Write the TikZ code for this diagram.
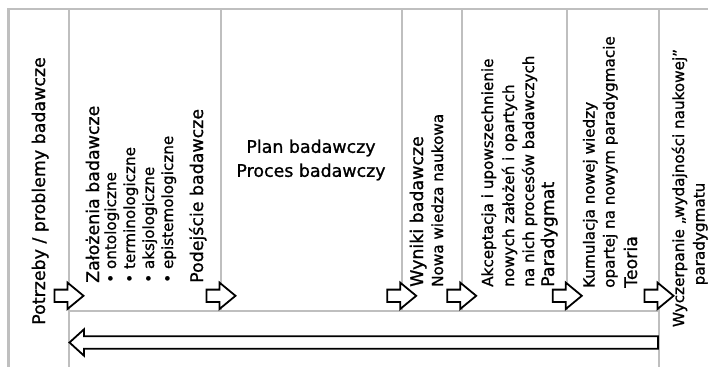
\documentclass[tikz,border=0pt]{standalone}
\usepackage{fontspec}
\setmainfont{DejaVu Sans}[FakeBold=1.0]
\definecolor{lgray}{RGB}{191,191,191}
\begin{document}
\begin{tikzpicture}[x=1bp,y=-1bp,
  grid/.style={draw=lgray, line width=2.2bp},
  blk/.style={draw=black, line width=1.8bp, fill=white, line join=miter},
  mtxt/.style={font=\fontsize{17.4bp}{21bp}\selectfont, inner sep=0pt},
  stxt/.style={font=\fontsize{15.2bp}{19bp}\selectfont, inner sep=0pt},
  vl/.style={rotate=90, anchor=base west},
  pics/rarrow/.style={code={
    \draw[blk] (-14.5,-6.2) -- (-1.5,-6.2) -- (-1.5,-13.2) -- (14.5,0) -- (-1.5,13.2) -- (-1.5,6.2) -- (-14.5,6.2) -- cycle;
  }}
]
\useasboundingbox (0,0) rectangle (708,367);
\fill[white] (0,0) rectangle (708,367);
% grid lines
\draw[grid] (708,9) -- (8.5,9) -- (8.5,367);
\draw[grid] (69,9) -- (69,367);
\draw[grid] (659,9) -- (659,367);
\draw[grid] (221,9) -- (221,311);
\draw[grid] (401.7,9) -- (401.7,311);
\draw[grid] (461.7,9) -- (461.7,311);
\draw[grid] (567.3,9) -- (567.3,311);
\draw[grid] (69,311) -- (659,311);
% small block arrows
\pic at (69,295.8) {rarrow};
\pic at (221,295.8) {rarrow};
\pic at (401.7,295.8) {rarrow};
\pic at (461.7,295.8) {rarrow};
\pic at (567.3,295.8) {rarrow};
\pic at (659,295.8) {rarrow};
% big return arrow
\draw[blk] (658,336.2) -- (84,336.2) -- (84,329.3) -- (69.5,342.5) -- (84,355.7) -- (84,348.8) -- (658,348.8) -- cycle;
% column 1
\node[mtxt, rotate=90, anchor=base] (potrzeby) at (45,191) {Potrzeby / problemy badawcze};
% column 2
\node[mtxt, vl] (zal) at (99,283) {Założenia badawcze};
\node[stxt, vl] (ont) at (116,283) {• ontologiczne};
\node[stxt, vl] (ter) at (135,283) {• terminologiczne};
\node[stxt, vl] (aks) at (154,283) {• aksjologiczne};
\node[stxt, vl] (epi) at (173,283) {• epistemologiczne};
\node[mtxt, vl] (pod) at (203,283) {Podejście badawcze};
% column 3
\node[mtxt, align=center, font=\fontsize{17.4bp}{24bp}\selectfont] (plan) at (311,160) {Plan badawczy\\Proces badawczy};
% column 4
\node[mtxt, vl] (wyn) at (423,287) {Wyniki badawcze};
\node[stxt, vl] (nowa) at (443,287) {Nowa wiedza naukowa};
% column 5
\node[stxt, vl] (akc) at (493,287) {Akceptacja i upowszechnienie};
\node[stxt, vl] (now) at (514,287) {nowych założeń i opartych};
\node[stxt, vl] (nan) at (534,287) {na nich procesów badawczych};
\node[mtxt, vl] (par) at (554,287) {Paradygmat};
% column 6
\node[stxt, vl] (kum) at (594.5,288) {Kumulacja nowej wiedzy};
\node[stxt, vl] (opa) at (614.5,288) {opartej na nowym paradygmacie};
\node[mtxt, vl] (teo) at (637,288) {Teoria};
% column 7
\node[stxt, rotate=90, anchor=base] (wyc) at (684,188) {Wyczerpanie „wydajności naukowej”};
\node[stxt, rotate=90, anchor=base] (pdg) at (704.5,234) {paradygmatu};
\end{tikzpicture}
\end{document}
